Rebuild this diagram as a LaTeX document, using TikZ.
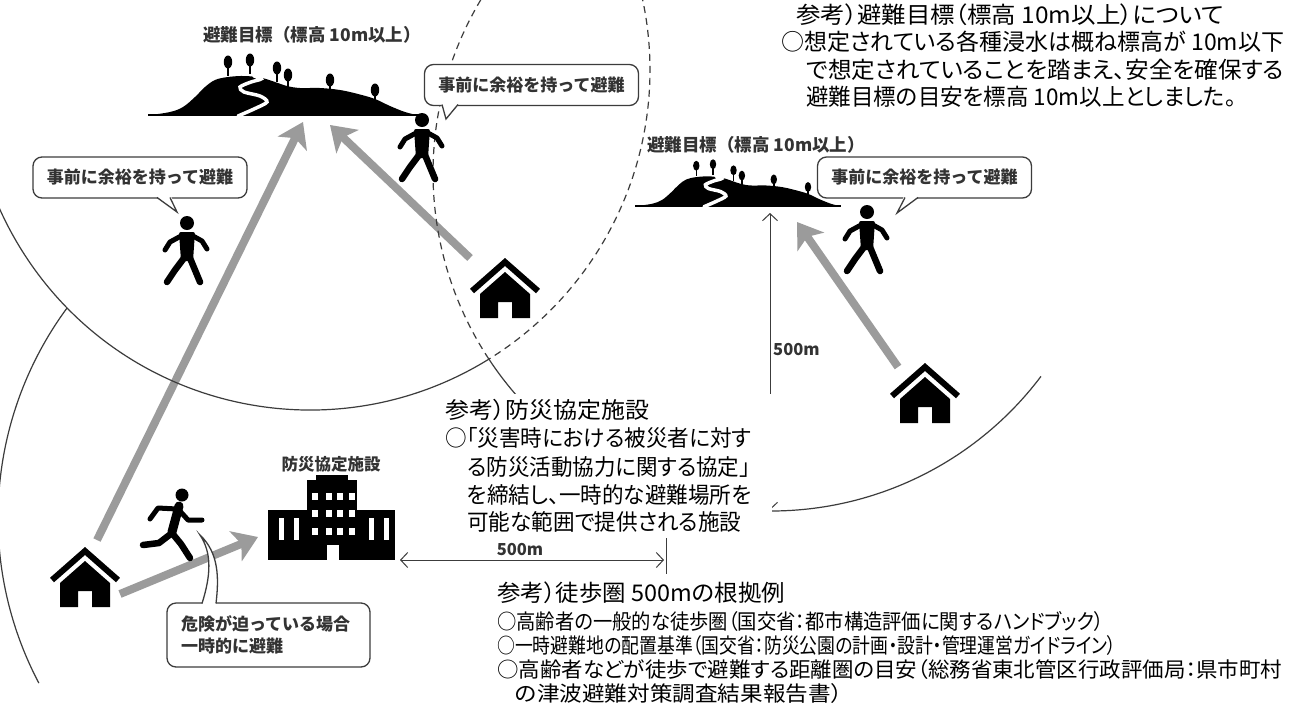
\documentclass[tikz,border=0pt]{standalone}
\usepackage{fontspec}
\setmainfont{Noto Sans CJK JP}
\newfontfamily\propfont{Noto Sans CJK JP}[RawFeature=+palt]
\usetikzlibrary{arrows.meta}

\definecolor{routegray}{HTML}{9B9B9B}
\definecolor{ringgray}{HTML}{3C3C3C}
\definecolor{labelgray}{HTML}{333333}

% squeeze or stretch one line of text to a given width
\newcommand{\fitto}[2]{\resizebox{#1}{\height}{#2}}

\tikzset{
  ring/.style={draw=ringgray, line width=1.2pt},
  ringdash/.style={ring, dash pattern=on 7pt off 5pt},
  route/.style={draw=routegray, line width=8pt, -{Stealth[length=24pt,width=32pt,inset=6pt]}},
  span/.style={draw=ringgray, line width=1pt,
    {Straight Barb[length=7pt,width=15pt]}-{Straight Barb[length=7pt,width=15pt]}},
  bubble/.style={draw=ringgray, fill=white, line width=1.3pt, rounded corners=9pt,
    minimum width=214pt, minimum height=41pt, inner sep=0pt, text=labelgray,
    font=\fontsize{17}{22}\selectfont\bfseries},
  tail/.style={draw=ringgray, line width=1.3pt, line join=miter},
  tag/.style={text=labelgray, inner sep=0pt, font=\fontsize{17.5}{20}\selectfont\bfseries},
  note/.style={anchor=base west, inner sep=0pt, text=black, font=\propfont\fontsize{23}{26}\selectfont},
  midnote/.style={note, font=\propfont\fontsize{22.5}{26}\selectfont},
  lownote/.style={note, font=\propfont\fontsize{21}{24}\selectfont},
  % icons, origin at the head / at the foot of the figure
  walker/.pic={
    \fill (0,0) circle[radius=7pt];
    \fill[rounded corners=2pt] (-8,9) -- (8,9) -- (6,38) -- (-6,38) -- cycle;
    \draw[line width=5pt, line cap=round, line join=round]
      (-6,13) -- (-17,19) -- (-22,27) (6,13) -- (15,18) -- (20,26);
    \draw[line width=6.5pt, line cap=round, line join=round]
      (-3,35) -- (-12,47) -- (-20,59) (3,35) -- (8,47) -- (13,59);
  },
  runner/.pic={
    \fill (0,0) circle[radius=6.5pt];
    \draw[line width=9pt, line cap=round] (-3,11) -- (-10,37);
    \draw[line width=5pt, line cap=round, line join=round]
      (-5,14) -- (-24,13) -- (-32,24) (-3,15) -- (6,25) -- (20,25);
    \draw[line width=6.5pt, line cap=round, line join=round]
      (-10,38) -- (-1,49) -- (8,63) (-10,38) -- (-23,48) -- (-39,50);
  },
  house/.pic={
    \draw[line width=6pt] (-33,-27) -- (0,-56) -- (33,-27);
    \fill (-25,0) -- (-25,-24) -- (0,-46) -- (25,-24) -- (25,0) -- (7,0)
      -- (7,-16) -- (-7,-16) -- (-7,0) -- cycle;
  },
  office/.pic={
    \fill (-64,0) rectangle (63,-50);
    \fill (-25,-50) rectangle (25,-80);
    \fill (-16,-79) rectangle (16,-85);
    \foreach \wx in {-17,-3.5,8,19.5}
      \foreach \wy in {-67,-50,-32}
        \fill[white] (\wx-3,\wy) rectangle (\wx+3,\wy+7);
    \foreach \wx in {-51,-36,39,54}
      \fill[white] (\wx-2.5,-42) rectangle (\wx+2.5,-20);
    \fill[white] (-5.5,-15) rectangle (6.5,0);
  },
  hill/.pic={
    \fill plot[smooth, tension=0.6] coordinates {(0,0) (20,-3) (33,-8) (45,-18)
      (55,-28) (65,-35) (78,-38) (95,-39) (112,-37) (125,-33) (137,-29) (150,-27)
      (170,-27) (190,-25) (208,-21) (225,-16) (240,-9) (255,-3) (267,0)} -- cycle;
    \draw[line width=1.2pt] (-2,0) -- (269,0);
    \foreach \tx/\ty in {78/-53,100/-55,127/-47,138/-40,180/-35,225/-25} {
      \draw[line width=1.5pt] (\tx,\ty) -- (\tx,\ty+14);
      \fill (\tx,\ty) ellipse[x radius=4.2pt, y radius=6.5pt];
    }
    \draw[white, line width=3.5pt, line cap=round] plot[smooth] coordinates {(88,1)
      (104,-6) (117,-13) (110,-19) (94,-23) (90,-28) (101,-33) (111,-36) (104,-39)};
  }
}

\begin{document}
\begin{tikzpicture}[x=1pt, y=-1pt]
  \useasboundingbox (0,0) rectangle (1290,713);
  \fill[white] (0,0) rectangle (1290,713);
  \clip (0,0) rectangle (1290,713);

  % centres of the 500 m circles
  \coordinate (goalA) at (310,70);
  \coordinate (goalB) at (771,173);
  \coordinate (shelter) at (352,518);

  % evacuation routes
  \coordinate (fromA) at (97,540);  \coordinate (toA) at (303,122);
  \coordinate (fromB) at (470,258); \coordinate (toB) at (330,125);
  \coordinate (fromC) at (898,367); \coordinate (toC) at (797,222);
  \coordinate (fromD) at (120,594); \coordinate (toD) at (258,537);
  \draw[route] (fromA) -- (toA);
  \draw[route] (fromB) -- (toB);
  \draw[route] (fromC) -- (toC);
  \draw[route] (fromD) -- (toD);

  % 500 m circles, dashed where two of them overlap
  \draw[ring] (goalA) ++(58.25:340) arc[start angle=58.25, end angle=326.93, radius=340];
  \draw[ringdash] (goalA) ++(-33.07:340) arc[start angle=-33.07, end angle=58.25, radius=340];
  \draw[ring] (goalB) ++(36.98:338) arc[start angle=36.98, end angle=146.6, radius=338];
  \draw[ringdash] (goalB) ++(146.6:338) arc[start angle=146.6, end angle=238.6, radius=338];
  \draw[ring] (shelter) ++(152.2:354) arc[start angle=152.2, end angle=216.4, radius=354];

  % goals
  \pic at (150,115) {hill};
  \pic[scale=0.76] at (637,206) {hill};
  \node[tag] (goalAlabel) at (312,35) {避難目標（標高 10m以上）};
  \node[tag] (goalBlabel) at (756,145) {避難目標（標高 10m以上）};

  % people and houses
  \pic at (422,120) {walker};
  \pic at (187,223) {walker};
  \pic at (867,212) {walker};
  \pic at (182,495) {runner};
  \pic at (85,607) {house};
  \pic at (505,318) {house};
  \pic at (925,423) {house};
  \pic at (332,560) {office};
  \node[tag, font=\fontsize{16.5}{20}\selectfont\bfseries] (officelabel) at (331,464) {防災協定施設};

  % speech bubbles
  \node[bubble] (talkA) at (531.5,85) {事前に余裕を持って避難};
  \fill[white] (441,103) -- (446,119) -- (459,103) -- cycle;
  \draw[tail] (442,104.5) -- (446,119) -- (458,104.5);
  \node[bubble] (talkB) at (140,177.5) {事前に余裕を持って避難};
  \fill[white] (156,196) -- (177,212) -- (171,196) -- cycle;
  \draw[tail] (157,197.5) -- (177,212) -- (170,197.5);
  \node[bubble] (talkC) at (924.5,177.5) {事前に余裕を持って避難};
  \fill[white] (904,196) -- (897,213) -- (919,196) -- cycle;
  \draw[tail] (905,197.5) -- (897,213) -- (918,197.5);
  \node[bubble, minimum width=203pt, minimum height=64pt, align=left, text width=175pt]
    (talkD) at (268.5,635) {危険が迫っている場合\\一時的に避難};
  \fill[white] (202,605) .. controls (211,575) and (212,553) .. (200,535)
    .. controls (219,553) and (219,578) .. (216,605) -- cycle;
  \draw[tail] (202,603.5) .. controls (211,575) and (212,553) .. (200,535)
    .. controls (219,553) and (219,578) .. (216,603.5);

  % 500 m spans
  \coordinate (spanL) at (400,560); \coordinate (spanR) at (664,560);
  \coordinate (spanT) at (770,213); \coordinate (spanB) at (770,510);
  \draw[span] (spanL) -- (spanR);
  \draw[ringgray, line width=1pt] (666,538) -- (666,574);
  \node[tag, font=\fontsize{16.5}{20}\selectfont\bfseries] (spanlabelA) at (520,549) {500m};
  \draw[span] (spanT) -- (spanB);
  \node[tag, font=\fontsize{16.5}{20}\selectfont\bfseries, anchor=west] (spanlabelB) at (773,350) {500m};

  % notes
  \node[note] (goalnote1) at (796,23.5) {\fitto{428pt}{参考）避難目標（標高 10m以上）について}};
  \node[note] (goalnote2) at (781,50.5) {\fitto{503pt}{○想定されている各種浸水は概ね標高が 10m以下}};
  \node[note] (goalnote3) at (806,78.5) {\fitto{478pt}{で想定されていることを踏まえ、安全を確保する}};
  \node[note] (goalnote4) at (806,105.5) {\fitto{430pt}{避難目標の目安を標高 10m以上としました。}};

  \fill[white] (440,394) rectangle (772,536);
  \node[midnote] (officenote1) at (445,418) {\fitto{204pt}{参考）防災協定施設}};
  \node[midnote] (officenote2) at (445,446) {\fitto{306pt}{○「災害時における被災者に対す}};
  \node[midnote] (officenote3) at (467,475) {\fitto{283pt}{る防災活動協力に関する協定」}};
  \node[midnote] (officenote4) at (467,503) {\fitto{284pt}{を締結し、一時的な避難場所を}};
  \node[midnote] (officenote5) at (467,530) {\fitto{274pt}{可能な範囲で提供される施設}};

  \node[lownote, font=\propfont\fontsize{23}{26}\selectfont] (walknote1) at (497,601.5)
    {\fitto{288pt}{参考）徒歩圏 500mの根拠例}};
  \node[lownote] (walknote2) at (497,629)
    {\fitto{607pt}{○高齢者の一般的な徒歩圏（国交省：都市構造評価に関するハンドブック）}};
  \node[lownote] (walknote3) at (497,653)
    {\fitto{619pt}{○一時避難地の配置基準（国交省：防災公園の計画・設計・管理運営ガイドライン）}};
  \node[lownote] (walknote4) at (497,677)
    {\fitto{785pt}{○高齢者などが徒歩で避難する距離圏の目安（総務省東北管区行政評価局：県市町村}};
  \node[lownote] (walknote5) at (515,701)
    {\fitto{327pt}{の津波避難対策調査結果報告書）}};
\end{tikzpicture}
\end{document}
